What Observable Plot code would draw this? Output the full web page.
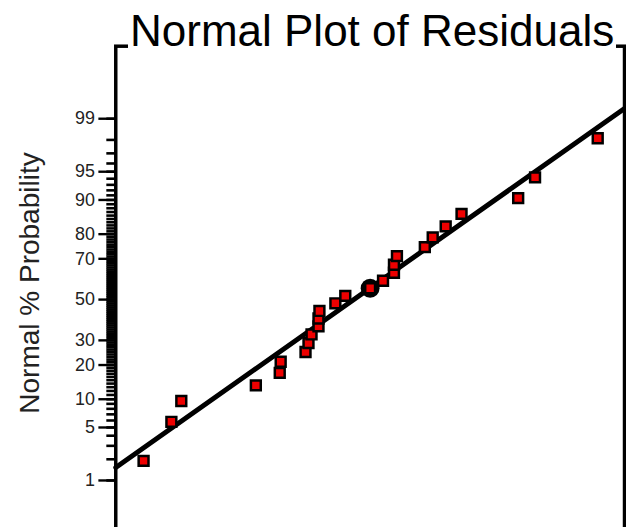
<!DOCTYPE html>
<html><head><meta charset="utf-8">
<script src="https://cdn.jsdelivr.net/npm/d3@7"></script>
<script src="https://cdn.jsdelivr.net/npm/@observablehq/plot@0.6"></script>
<style>
html,body{margin:0;padding:0;background:#fff;overflow:hidden;width:626px;height:527px;}
#wrap{position:relative;width:626px;height:527px;overflow:hidden;background:#fff;}
#chart{position:absolute;left:0;top:0;}
#title{position:absolute;left:128px;top:9px;font-family:"Liberation Sans",Arial,sans-serif;font-size:44px;line-height:44px;background:#fff;padding:0 2px;white-space:nowrap;color:#000;}
#ylabel{position:absolute;left:30px;top:283px;transform:translate(-50%,-50%) rotate(-90deg);font-family:"Liberation Sans",Arial,sans-serif;font-size:28px;line-height:28px;white-space:nowrap;color:#222;}
</style></head>
<body><div id="wrap"><div id="chart"></div><div id="title">Normal Plot of Residuals</div><div id="ylabel">Normal % Probability</div></div>
<script>
// Residuals (sorted)
const residuals = [-2.672, -2.344, -2.227, -1.348, -1.066, -1.055, -0.762, -0.727, -0.691, -0.609, -0.609, -0.598, -0.410, -0.293, 0.000, 0.152, 0.281, 0.281, 0.316, 0.645, 0.738, 0.891, 1.078, 1.746, 1.945, 2.684];
// Normal % probability of each point
const probabilityPct = [1.9, 5.8, 9.6, 13.5, 17.3, 21.2, 25.0, 28.8, 32.7, 36.5, 40.4, 44.2, 48.1, 51.9, 55.8, 59.6, 63.5, 67.3, 71.2, 75.0, 78.8, 82.7, 86.5, 90.4, 94.2, 98.1];
// Highlighted run number
const highlightedPoint = [15];
// Fit line endpoints
const fitResidual = [-3, 3];
const fitProbabilityPct = [1.54, 99.30];
// Probability tick labels
const probTickLabels = [1, 5, 10, 20, 30, 50, 70, 80, 90, 95, 99];
const minorTickPct = d3.range(1, 100);

function probit(p){
  const a=[-3.969683028665376e+01,2.209460984245205e+02,-2.759285104469687e+02,1.383577518672690e+02,-3.066479806614716e+01,2.506628277459239e+00];
  const b=[-5.447609879822406e+01,1.615858368580409e+02,-1.556989798598866e+02,6.680131188771972e+01,-1.328068155288572e+01];
  const c=[-7.784894002430293e-03,-3.223964580411365e-01,-2.400758277161838e+00,-2.549732539343734e+00,4.374664141464968e+00,2.938163982698783e+00];
  const d=[7.784695709041462e-03,3.224671290700398e-01,2.445134137142996e+00,3.754408661907416e+00];
  const pl=0.02425, ph=1-pl; let q,r;
  if(p<pl){q=Math.sqrt(-2*Math.log(p));return (((((c[0]*q+c[1])*q+c[2])*q+c[3])*q+c[4])*q+c[5])/((((d[0]*q+d[1])*q+d[2])*q+d[3])*q+1);}
  if(p<=ph){q=p-0.5;r=q*q;return (((((a[0]*r+a[1])*r+a[2])*r+a[3])*r+a[4])*r+a[5])*q/(((((b[0]*r+b[1])*r+b[2])*r+b[3])*r+b[4])*r+1);}
  q=Math.sqrt(-2*Math.log(1-p));return -(((((c[0]*q+c[1])*q+c[2])*q+c[3])*q+c[4])*q+c[5])/((((d[0]*q+d[1])*q+d[2])*q+d[3])*q+1);
}

const xDomain = [-3, 3];
const points = residuals.map((r, i) => ({r, z: probit(probabilityPct[i] / 100), n: i + 1}));
const fit = fitResidual.map((r, i) => ({r, z: probit(fitProbabilityPct[i] / 100)}));
const majorZ = probTickLabels.map(p => probit(p / 100));
const minorZ = minorTickPct.map(p => probit(p / 100));

const chart = Plot.plot({
  width: 630, height: 600,
  marginLeft: 116, marginRight: 2, marginTop: 46, marginBottom: 0,
  style: {fontFamily: "'Liberation Sans', Arial, sans-serif", color: "#222", background: "#fff"},
  x: {domain: xDomain, axis: null},
  y: {domain: [-3.821, 3.259], axis: null},
  marks: [
    // minor ticks (every 1%)
    Plot.ruleY(minorZ, {y: d => d, x1: xDomain[0], x2: xDomain[0], insetLeft: -9, stroke: "#000", strokeWidth: 2.6}),
    // major ticks
    Plot.ruleY(majorZ, {y: d => d, x1: xDomain[0], x2: xDomain[0], insetLeft: -17, stroke: "#000", strokeWidth: 2.4}),
    Plot.axisY({ticks: majorZ, tickSize: 0, tickPadding: 21, fontSize: 18, label: null,
      tickFormat: d => String(probTickLabels[majorZ.indexOf(d)])}),
    Plot.frame({stroke: "#000", strokeWidth: 3.5}),
    Plot.line(fit, {x: "r", y: "z", stroke: "#000", strokeWidth: 5}),
    Plot.dot(points.filter(d => highlightedPoint.includes(d.n)), {x: "r", y: "z", r: 9.5, fill: "#000"}),
    Plot.dot(points, {x: "r", y: "z", symbol: "square", r: 5.6, fill: "#ee0000", stroke: "#000", strokeWidth: 2.5})
  ]
});
document.getElementById("chart").appendChild(chart);
</script>
</body></html>
